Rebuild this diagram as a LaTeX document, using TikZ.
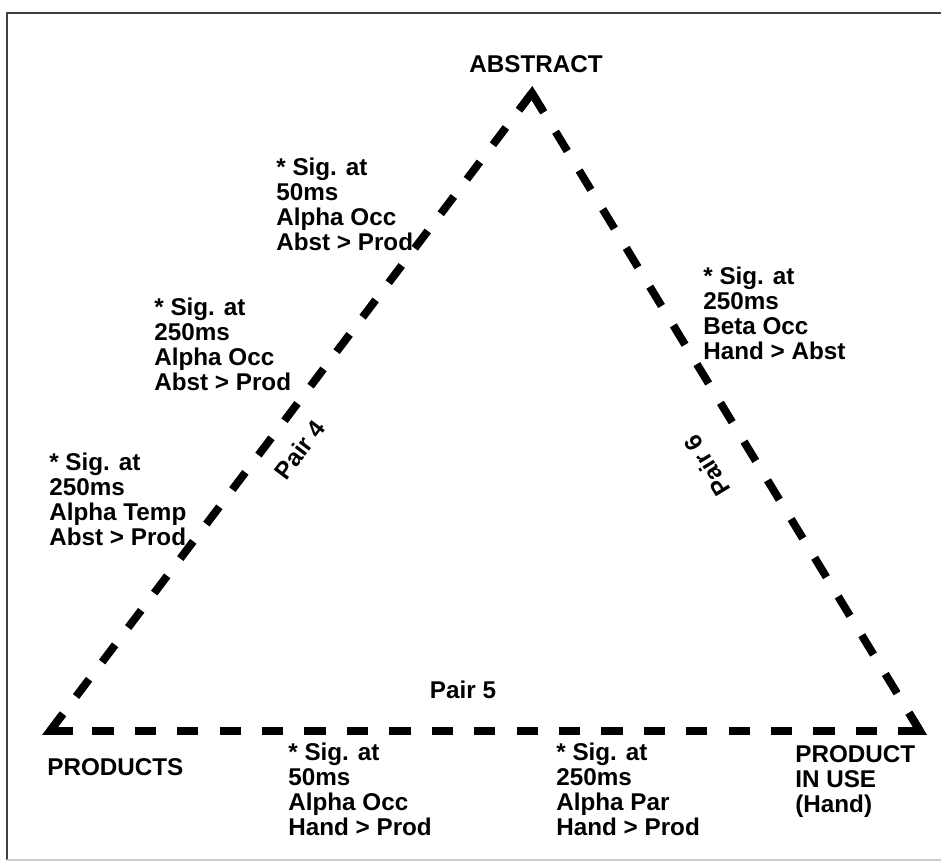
\documentclass[tikz,border=0pt]{standalone}
\usepackage{fontspec}
\setmainfont{Liberation Sans}
\usetikzlibrary{calc}
\begin{document}
\begin{tikzpicture}[x=0.02cm,y=-0.02cm,
    lbl/.style={inner sep=0pt,font=\fontsize{13.8}{14.2}\selectfont\bfseries,align=left},
    sigbox/.style={lbl,anchor=north west},
    side/.style={line width=4.5pt,black},
    corner/.style={line width=4.5pt,black,line join=miter,miter limit=12},
    frame/.style={line width=1.3pt,black!75}]
    \useasboundingbox (0,0) rectangle (941,867);
    \draw [frame] (941,13) -- (7,13) -- (7,860);
    \draw [line width=1pt,black!20] (7,860) -- (941,860);
    \coordinate (abs) at (532,93);
    \coordinate (prod) at (50,731);
    \coordinate (hand) at (920,731);
    \draw [side,dash pattern=on 12.3pt off 12.3pt] (prod) -- (abs);
    \draw [side,dash pattern=on 12.9pt off 12.9pt] (abs) -- (hand);
    \draw [side,dash pattern=on 12.07pt off 12.07pt] (prod) -- (hand);
    \draw [corner] ($(abs)!12pt!(prod)$) -- (abs) -- ($(abs)!12pt!(hand)$);
    \draw [corner] ($(prod)!12pt!(abs)$) -- (prod) -- ($(prod)!13pt!(hand)$);
    \draw [corner] ($(hand)!12pt!(abs)$) -- (hand) -- ($(hand)!12pt!(prod)$);
    \node [lbl] (abslbl) at (536,64) {ABSTRACT};
    \node [sigbox] (prodlbl) at (47,758) {PRODUCTS};
    \node [sigbox] (handlbl) at (795,745) {PRODUCT\\IN USE\\(Hand)};
    \node [sigbox] (sigA) at (276,158) {* Sig. at\\50ms\\Alpha Occ\\Abst > Prod};
    \node [sigbox] (sigB) at (154,298) {* Sig. at\\250ms\\Alpha Occ\\Abst > Prod};
    \node [sigbox] (sigC) at (49,453) {* Sig. at\\250ms\\Alpha Temp\\Abst > Prod};
    \node [sigbox] (sigD) at (703,267) {* Sig. at\\250ms\\Beta Occ\\Hand > Abst};
    \node [sigbox] (sigE) at (288,743) {* Sig. at\\50ms\\Alpha Occ\\Hand > Prod};
    \node [sigbox] (sigF) at (556,743) {* Sig. at\\250ms\\Alpha Par\\Hand > Prod};
    \node [lbl,rotate=52.9] (pair4) at (300,450) {Pair 4};
    \node [lbl] (pair5) at (463,690) {Pair 5};
    \node [lbl,rotate=121.3] (pair6) at (707,466) {Pair 6};
\end{tikzpicture}
\end{document}
